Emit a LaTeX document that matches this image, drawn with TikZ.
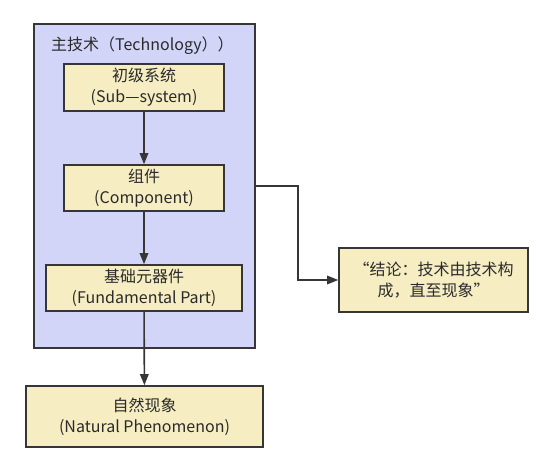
\documentclass[tikz,border=0pt]{standalone}
\usepackage{fontspec}
\setmainfont{Noto Sans CJK SC}
\usetikzlibrary{arrows.meta}

\definecolor{techblue}{HTML}{D2D5F8}
\definecolor{partyellow}{HTML}{F6EDC2}
\definecolor{edgegray}{HTML}{363636}
\definecolor{textgray}{HTML}{2A2A2A}

\tikzset{
  part/.style={draw=edgegray, line width=1.6pt, fill=partyellow, text=textgray,
    align=center, inner sep=0pt, font=\fontsize{16}{21}\selectfont},
  link/.style={draw=edgegray, line width=1.6pt, -{Triangle[length=11pt,width=8.5pt]}}
}

\begin{document}
\begin{tikzpicture}[x=1pt,y=1pt]
  \useasboundingbox (0,0) rectangle (538,-470);
  %outer technology frame
  \node[draw=edgegray, line width=1.6pt, fill=techblue, minimum width=221pt,
    minimum height=324pt, inner sep=0pt] (tech) at (144.5,-186) {};
  \node[anchor=west, text=textgray, font=\fontsize{16}{21}\selectfont, inner sep=0pt]
    (title) at (51,-46) {主技术（Technology））};
  %parts inside the frame
  \node[part, minimum width=160pt, minimum height=47pt] (sub) at (144,-87.5)
    {初级系统\\(Sub—system)};
  \node[part, minimum width=160pt, minimum height=46pt] (comp) at (144,-188)
    {组件\\(Component)};
  \node[part, minimum width=196pt, minimum height=46pt] (fund) at (144,-288)
    {基础元器件\\(Fundamental Part)};
  %outside
  \node[part, minimum width=237pt, minimum height=61pt] (nature) at (144.5,-416.5)
    {自然现象\\(Natural Phenomenon)};
  \node[part, minimum width=189pt, minimum height=64pt] (concl) at (433.5,-280)
    {“结论：技术由技术构\\成，直至现象”};

  \draw[link] (sub) -- (comp);
  \draw[link] (comp) -- (fund);
  \draw[link] (fund) -- (nature);
  \draw[link] (tech.east) -- ++(42,0) |- (concl);
\end{tikzpicture}
\end{document}
